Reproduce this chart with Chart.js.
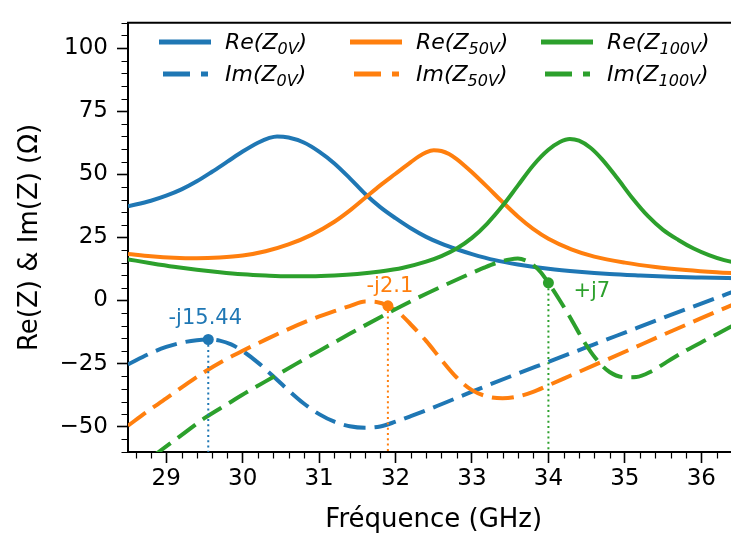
<!DOCTYPE html>
<html>
<head>
<meta charset="utf-8">
<script src="https://cdn.jsdelivr.net/npm/chart.js@4.4.1/dist/chart.umd.min.js"></script>
<style>
html,body{margin:0;padding:0;background:#fff;overflow:hidden;width:731px;height:538px;}
#wrap{position:absolute;left:0;top:0;width:745px;height:538px;}
</style>
</head>
<body>
<div id="wrap"><canvas id="c" width="745" height="538"></canvas></div>
<script>
// ---------- data (GHz / Ohm) ----------
const freqRe0 = [28.5,28.8,29.0,29.2,29.4,29.6,29.8,30.0,30.2,30.35,30.45,30.6,30.8,31.0,31.2,31.4,31.6,31.8,32.0,32.2,32.4,32.6,32.8,33.0,33.3,33.6,34.0,34.4,34.8,35.2,35.6,36.0,36.5];
const re0     = [37.3,39.5,41.5,44.0,47.2,51.0,55.0,59.0,62.5,64.4,65.0,64.6,62.6,59.0,54.3,48.5,42.3,37.0,32.6,28.6,25.2,22.5,20.3,18.4,16.0,14.3,12.6,11.4,10.5,9.9,9.4,9.1,8.8];

const freqRe50 = [28.5,28.8,29.1,29.4,29.7,30.0,30.3,30.6,30.9,31.2,31.4,31.6,31.8,32.0,32.2,32.3,32.4,32.5,32.6,32.7,32.8,32.9,33.0,33.2,33.4,33.6,33.8,34.0,34.3,34.6,35.0,35.4,35.8,36.2,36.5];
const re50     = [18.4,17.5,16.9,16.7,17.0,17.8,19.5,22.2,26.0,31.2,35.6,40.6,45.6,50.2,54.8,57.0,58.7,59.5,59.2,58.0,56.0,53.5,50.8,45.0,39.0,33.3,28.4,24.5,20.3,17.4,15.0,13.3,12.1,11.2,10.7];

const freqRe100 = [28.5,28.8,29.1,29.4,29.7,30.0,30.3,30.6,30.9,31.2,31.5,31.8,32.1,32.4,32.6,32.8,33.0,33.2,33.4,33.6,33.8,34.0,34.15,34.28,34.4,34.55,34.7,34.9,35.1,35.3,35.5,35.7,35.9,36.1,36.3,36.5];
const re100     = [16.3,14.8,13.4,12.2,11.2,10.4,9.9,9.6,9.6,9.9,10.5,11.5,13.0,15.4,17.6,20.6,24.8,30.5,37.5,45.5,53.5,59.7,62.8,64.0,63.3,60.5,56.0,48.5,40.5,33.5,28.0,24.0,20.6,18.0,16.0,14.6];

const freqIm0 = [28.5,28.8,29.0,29.2,29.4,29.55,29.7,29.85,30.0,30.2,30.4,30.6,30.8,31.0,31.2,31.4,31.6,31.8,32.0,32.2,32.5,33.0,33.5,34.0,34.5,35.0,35.5,36.0,36.5];
const im0     = [-25.3,-20.8,-18.4,-16.7,-15.7,-15.44,-15.9,-17.4,-20.0,-24.6,-30.0,-35.6,-40.8,-45.0,-48.0,-49.8,-50.4,-49.9,-48.0,-45.8,-42.3,-36.1,-30.1,-24.3,-18.5,-12.7,-6.9,-1.2,4.4];

const freqIm50 = [28.5,28.75,29.0,29.25,29.5,29.75,30.0,30.3,30.6,30.9,31.2,31.4,31.6,31.75,31.9,32.05,32.2,32.4,32.6,32.8,33.0,33.2,33.4,33.6,33.8,34.0,34.3,34.6,35.0,35.5,36.0,36.5];
const im50     = [-49.6,-44.0,-38.8,-33.4,-28.3,-23.8,-19.9,-15.5,-11.3,-7.5,-4.2,-2.2,-0.4,-0.6,-2.1,-5.0,-9.5,-16.0,-23.5,-30.5,-35.5,-38.0,-38.7,-38.0,-36.2,-33.6,-29.6,-25.6,-20.3,-13.6,-7.0,-0.5];

const freqIm100 = [28.5,28.9,29.2,29.5,29.8,30.1,30.4,30.7,31.0,31.4,31.8,32.2,32.6,32.9,33.15,33.35,33.5,33.6,33.7,33.8,33.9,34.0,34.15,34.3,34.46,34.62,34.8,35.0,35.15,35.35,35.55,35.8,36.1,36.36,36.5];
const im100     = [-69,-60,-53.3,-46.6,-41.0,-35.5,-30.3,-25.1,-20.0,-13.2,-6.6,-0.3,5.5,9.6,12.9,15.2,16.3,16.6,15.9,14.1,11.2,7.0,0.0,-7.5,-16.0,-23.0,-28.3,-30.4,-30.3,-28.0,-24.3,-19.8,-15.0,-10.8,-8.6];

const markFreq   = [29.55, 31.9, 34.0];
const markValue  = [-15.44, -2.1, 7];
const markLabels = ['-j15.44', '-j2.1', '+j7'];

const xTicks = [29,30,31,32,33,34,35,36];
const yTicks = [-50,-25,0,25,50,75,100];

const seriesPrefix = ['Re','Re','Re','Im','Im','Im'];
const seriesSub    = ['0V','50V','100V','0V','50V','100V'];

// ---------- styling ----------
const C = ['#1f77b4','#ff7f0e','#2ca02c'];
const LW = 4;
const DASH = [22, 9];
const pts = (xs, ys) => xs.map((x, i) => ({x, y: ys[i]}));

function curve(xs, ys, color, dashed, order) {
  return {
    data: pts(xs, ys), borderColor: color, borderWidth: LW,
    borderDash: dashed ? DASH : [], pointRadius: 0, fill: false,
    cubicInterpolationMode: 'monotone', order
  };
}

const datasets = [
  curve(freqRe0, re0, C[0], false, 20),
  curve(freqIm0, im0, C[0], true, 19),
  curve(freqRe50, re50, C[1], false, 18),
  curve(freqIm50, im50, C[1], true, 17),
  curve(freqRe100, re100, C[2], false, 16),
  curve(freqIm100, im100, C[2], true, 15)
];
markFreq.forEach((f, i) => {
  datasets.push({
    data: [{x: f, y: markValue[i]}, {x: f, y: -60}],
    borderColor: C[i], borderWidth: 2, borderDash: [2, 3.3],
    pointRadius: 0, fill: false, order: 5
  });
});
markFreq.forEach((f, i) => {
  datasets.push({
    data: [{x: f, y: markValue[i]}], showLine: false,
    pointRadius: 5.5, pointBackgroundColor: C[i], pointBorderColor: C[i],
    pointBorderWidth: 0, order: 1
  });
});

const minus = v => String(v).replace('-', '\u2212');

const decor = {
  id: 'decor',
  afterDraw(chart) {
    const {ctx, chartArea: a, scales: {x, y}} = chart;
    ctx.save();
    // top spine
    ctx.strokeStyle = '#000'; ctx.lineWidth = 2;
    ctx.beginPath(); ctx.moveTo(a.left - 1, a.top); ctx.lineTo(chart.width, a.top); ctx.stroke();
    // minor ticks
    ctx.lineWidth = 1.2;
    ctx.beginPath();
    for (let k = -12; k <= 22; k++) {
      if (k % 5 === 0) continue;
      const py = Math.round(y.getPixelForValue(k * 5)) + 0.5;
      ctx.moveTo(a.left - 6.5, py); ctx.lineTo(a.left, py);
    }
    for (let k = 143; k <= 182; k++) {
      if (k % 5 === 0) continue;
      const px = Math.round(x.getPixelForValue(k / 5)) + 0.5;
      ctx.moveTo(px, a.bottom); ctx.lineTo(px, a.bottom + 6.5);
    }
    ctx.stroke();
    // annotation labels
    ctx.font = '21px "DejaVu Sans"';
    ctx.textBaseline = 'middle';
    const off = [[-3, -21, 'center'], [2, -19, 'center'], [25, 9, 'left']];
    markFreq.forEach((f, i) => {
      ctx.fillStyle = C[i];
      ctx.textAlign = off[i][2];
      ctx.fillText(markLabels[i], x.getPixelForValue(f) + off[i][0], y.getPixelForValue(markValue[i]) + off[i][1]);
    });
    // legend
    const colX = [159, 350, 541];
    const rowY = [42, 74];
    ctx.textAlign = 'left'; ctx.textBaseline = 'alphabetic';
    for (let i = 0; i < 6; i++) {
      const col = i % 3, row = Math.floor(i / 3);
      const x0 = colX[col], yy = rowY[row];
      ctx.strokeStyle = C[col]; ctx.lineWidth = 5;
      ctx.lineCap = 'butt';
      if (row === 0) {
        ctx.setLineDash([]);
        ctx.beginPath(); ctx.moveTo(x0, yy); ctx.lineTo(x0 + 52, yy); ctx.stroke();
      } else {
        ctx.setLineDash([27, 11]);
        ctx.beginPath(); ctx.moveTo(x0 + 4, yy); ctx.lineTo(x0 + 49, yy); ctx.stroke();
        ctx.setLineDash([]);
      }
      ctx.fillStyle = '#000';
      let tx = x0 + 66;
      const by = yy + 7;
      ctx.font = 'italic 22px "DejaVu Sans"';
      const t1 = seriesPrefix[i] + '(Z';
      ctx.fillText(t1, tx, by); tx += ctx.measureText(t1).width;
      ctx.font = 'italic 16px "DejaVu Sans"';
      ctx.fillText(seriesSub[i], tx, by + 4.5); tx += ctx.measureText(seriesSub[i]).width;
      ctx.font = 'italic 22px "DejaVu Sans"';
      ctx.fillText(')', tx, by);
    }
    ctx.restore();
  }
};

Chart.defaults.font.family = '"DejaVu Sans"';
Chart.defaults.color = '#000';

new Chart(document.getElementById('c'), {
  type: 'line',
  data: {datasets},
  options: {
    responsive: false, animation: false, devicePixelRatio: 1,
    layout: {padding: {top: 10, left: 0, right: 5, bottom: 0}},
    plugins: {legend: {display: false}, tooltip: {enabled: false}},
    scales: {
      x: {
        type: 'linear', min: 28.5, max: 36.5,
        afterBuildTicks: s => { s.ticks = xTicks.map(v => ({value: v})); },
        afterFit: s => { s.height = 86; },
        grid: {drawOnChartArea: false, drawTicks: true, tickLength: 11, tickWidth: 1.6, color: '#000', tickColor: '#000'},
        border: {display: true, color: '#000', width: 2},
        ticks: {color: '#000', font: {size: 23}, padding: 2, autoSkip: false, maxRotation: 0, callback: v => minus(v)},
        title: {display: true, text: 'Fréquence (GHz)', color: '#000', font: {size: 26}, padding: {top: 0, bottom: 2}}
      },
      y: {
        type: 'linear', min: -60, max: 110,
        afterBuildTicks: s => { s.ticks = yTicks.map(v => ({value: v})); },
        afterFit: s => { s.width = 128; },
        grid: {drawOnChartArea: false, drawTicks: true, tickLength: 11, tickWidth: 1.6, color: '#000', tickColor: '#000'},
        border: {display: true, color: '#000', width: 2},
        ticks: {color: '#000', font: {size: 23}, padding: 9, autoSkip: false, callback: v => minus(v)},
        title: {display: true, text: 'Re(Z) & Im(Z) (\u03A9)', color: '#000', font: {size: 26}, padding: {top: 15, bottom: 0}}
      }
    }
  },
  plugins: [decor]
});
</script>
</body>
</html>
